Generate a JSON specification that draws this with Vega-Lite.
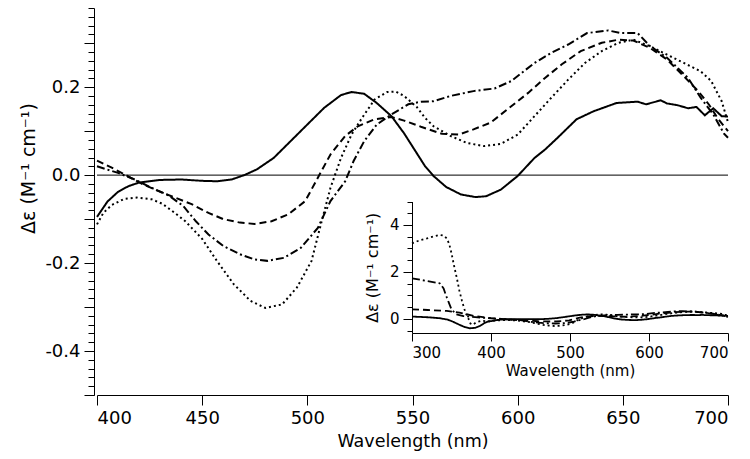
{
  "$schema": "https://vega.github.io/schema/vega-lite/v6.json",
  "width": 631,
  "height": 387,
  "autosize": "none",
  "padding": {"left": 97, "top": 8, "right": 22, "bottom": 64},
  "background": "white",
  "config": {
    "view": {"stroke": null},
    "axis": {
      "grid": false,
      "domainColor": "black",
      "tickColor": "black",
      "labelColor": "black",
      "titleColor": "black",
      "labelFont": "DejaVu Sans",
      "titleFont": "DejaVu Sans",
      "titleFontWeight": "normal",
      "domainWidth": 1,
      "tickWidth": 1
    }
  },
  "datasets": {
    "cd": [
      {"s": "a", "wl": 300, "de": 0.10}, {"s": "a", "wl": 320, "de": 0.07}, {"s": "a", "wl": 335, "de": 0.03}, {"s": "a", "wl": 345, "de": -0.03}, {"s": "a", "wl": 352, "de": -0.12}, {"s": "a", "wl": 360, "de": -0.25}, {"s": "a", "wl": 367, "de": -0.35}, {"s": "a", "wl": 373, "de": -0.40}, {"s": "a", "wl": 380, "de": -0.38}, {"s": "a", "wl": 386, "de": -0.30}, {"s": "a", "wl": 392, "de": -0.17}, {"s": "a", "wl": 397, "de": -0.10},
      {"s": "a", "wl": 400, "de": -0.095}, {"s": "a", "wl": 405, "de": -0.06}, {"s": "a", "wl": 410, "de": -0.038}, {"s": "a", "wl": 415, "de": -0.025}, {"s": "a", "wl": 420, "de": -0.017}, {"s": "a", "wl": 430, "de": -0.011}, {"s": "a", "wl": 440, "de": -0.010}, {"s": "a", "wl": 450, "de": -0.013}, {"s": "a", "wl": 457, "de": -0.014}, {"s": "a", "wl": 464, "de": -0.010}, {"s": "a", "wl": 470, "de": 0.0}, {"s": "a", "wl": 476, "de": 0.013}, {"s": "a", "wl": 484, "de": 0.039}, {"s": "a", "wl": 492, "de": 0.077}, {"s": "a", "wl": 500, "de": 0.115}, {"s": "a", "wl": 508, "de": 0.153}, {"s": "a", "wl": 516, "de": 0.182}, {"s": "a", "wl": 521, "de": 0.189}, {"s": "a", "wl": 527, "de": 0.185}, {"s": "a", "wl": 533, "de": 0.164}, {"s": "a", "wl": 540, "de": 0.134}, {"s": "a", "wl": 546, "de": 0.095}, {"s": "a", "wl": 552, "de": 0.05}, {"s": "a", "wl": 556, "de": 0.02}, {"s": "a", "wl": 560, "de": -0.002}, {"s": "a", "wl": 566, "de": -0.027}, {"s": "a", "wl": 573, "de": -0.044}, {"s": "a", "wl": 580, "de": -0.05}, {"s": "a", "wl": 585, "de": -0.048}, {"s": "a", "wl": 592, "de": -0.033}, {"s": "a", "wl": 600, "de": -0.002}, {"s": "a", "wl": 608, "de": 0.039}, {"s": "a", "wl": 613, "de": 0.058}, {"s": "a", "wl": 619, "de": 0.085}, {"s": "a", "wl": 628, "de": 0.127}, {"s": "a", "wl": 636, "de": 0.145}, {"s": "a", "wl": 647, "de": 0.164}, {"s": "a", "wl": 657, "de": 0.167}, {"s": "a", "wl": 661, "de": 0.161}, {"s": "a", "wl": 668, "de": 0.17}, {"s": "a", "wl": 671, "de": 0.163}, {"s": "a", "wl": 676, "de": 0.159}, {"s": "a", "wl": 681, "de": 0.152}, {"s": "a", "wl": 685, "de": 0.155}, {"s": "a", "wl": 689, "de": 0.136}, {"s": "a", "wl": 693, "de": 0.152}, {"s": "a", "wl": 697, "de": 0.134}, {"s": "a", "wl": 700, "de": 0.133},

      {"s": "b", "wl": 300, "de": 0.41}, {"s": "b", "wl": 320, "de": 0.38}, {"s": "b", "wl": 344, "de": 0.34}, {"s": "b", "wl": 360, "de": 0.27}, {"s": "b", "wl": 378, "de": 0.13}, {"s": "b", "wl": 390, "de": 0.08},
      {"s": "b", "wl": 400, "de": 0.033}, {"s": "b", "wl": 407, "de": 0.017}, {"s": "b", "wl": 413, "de": 0.002}, {"s": "b", "wl": 421, "de": -0.019}, {"s": "b", "wl": 429, "de": -0.036}, {"s": "b", "wl": 437, "de": -0.051}, {"s": "b", "wl": 445, "de": -0.066}, {"s": "b", "wl": 453, "de": -0.086}, {"s": "b", "wl": 460, "de": -0.1}, {"s": "b", "wl": 468, "de": -0.108}, {"s": "b", "wl": 475, "de": -0.111}, {"s": "b", "wl": 483, "de": -0.105}, {"s": "b", "wl": 491, "de": -0.089}, {"s": "b", "wl": 499, "de": -0.059}, {"s": "b", "wl": 505, "de": -0.006}, {"s": "b", "wl": 511, "de": 0.047}, {"s": "b", "wl": 518, "de": 0.089}, {"s": "b", "wl": 524, "de": 0.111}, {"s": "b", "wl": 532, "de": 0.127}, {"s": "b", "wl": 540, "de": 0.132}, {"s": "b", "wl": 546, "de": 0.124}, {"s": "b", "wl": 554, "de": 0.11}, {"s": "b", "wl": 564, "de": 0.094}, {"s": "b", "wl": 572, "de": 0.092}, {"s": "b", "wl": 579, "de": 0.104}, {"s": "b", "wl": 587, "de": 0.119}, {"s": "b", "wl": 595, "de": 0.149}, {"s": "b", "wl": 605, "de": 0.187}, {"s": "b", "wl": 613, "de": 0.221}, {"s": "b", "wl": 621, "de": 0.252}, {"s": "b", "wl": 630, "de": 0.282}, {"s": "b", "wl": 640, "de": 0.301}, {"s": "b", "wl": 648, "de": 0.308}, {"s": "b", "wl": 655, "de": 0.306}, {"s": "b", "wl": 663, "de": 0.289}, {"s": "b", "wl": 671, "de": 0.263}, {"s": "b", "wl": 679, "de": 0.225}, {"s": "b", "wl": 686, "de": 0.19}, {"s": "b", "wl": 691, "de": 0.16}, {"s": "b", "wl": 695, "de": 0.13}, {"s": "b", "wl": 700, "de": 0.1},

      {"s": "c", "wl": 300, "de": 1.73}, {"s": "c", "wl": 318, "de": 1.62}, {"s": "c", "wl": 335, "de": 1.52}, {"s": "c", "wl": 340, "de": 1.3}, {"s": "c", "wl": 343, "de": 1.0}, {"s": "c", "wl": 346, "de": 0.75}, {"s": "c", "wl": 350, "de": 0.4}, {"s": "c", "wl": 356, "de": 0.2}, {"s": "c", "wl": 365, "de": 0.12}, {"s": "c", "wl": 380, "de": 0.08}, {"s": "c", "wl": 392, "de": 0.04},
      {"s": "c", "wl": 400, "de": 0.02}, {"s": "c", "wl": 410, "de": 0.005}, {"s": "c", "wl": 418, "de": -0.01}, {"s": "c", "wl": 426, "de": -0.029}, {"s": "c", "wl": 434, "de": -0.046}, {"s": "c", "wl": 441, "de": -0.07}, {"s": "c", "wl": 447, "de": -0.105}, {"s": "c", "wl": 453, "de": -0.135}, {"s": "c", "wl": 460, "de": -0.161}, {"s": "c", "wl": 468, "de": -0.18}, {"s": "c", "wl": 475, "de": -0.192}, {"s": "c", "wl": 481, "de": -0.195}, {"s": "c", "wl": 489, "de": -0.188}, {"s": "c", "wl": 497, "de": -0.165}, {"s": "c", "wl": 505, "de": -0.12}, {"s": "c", "wl": 511, "de": -0.059}, {"s": "c", "wl": 518, "de": -0.014}, {"s": "c", "wl": 522, "de": 0.032}, {"s": "c", "wl": 527, "de": 0.077}, {"s": "c", "wl": 533, "de": 0.115}, {"s": "c", "wl": 540, "de": 0.138}, {"s": "c", "wl": 548, "de": 0.161}, {"s": "c", "wl": 554, "de": 0.167}, {"s": "c", "wl": 560, "de": 0.168}, {"s": "c", "wl": 568, "de": 0.18}, {"s": "c", "wl": 579, "de": 0.191}, {"s": "c", "wl": 589, "de": 0.197}, {"s": "c", "wl": 597, "de": 0.214}, {"s": "c", "wl": 608, "de": 0.255}, {"s": "c", "wl": 616, "de": 0.278}, {"s": "c", "wl": 624, "de": 0.297}, {"s": "c", "wl": 633, "de": 0.323}, {"s": "c", "wl": 643, "de": 0.329}, {"s": "c", "wl": 649, "de": 0.323}, {"s": "c", "wl": 657, "de": 0.323}, {"s": "c", "wl": 663, "de": 0.293}, {"s": "c", "wl": 671, "de": 0.267}, {"s": "c", "wl": 681, "de": 0.221}, {"s": "c", "wl": 687, "de": 0.176}, {"s": "c", "wl": 693, "de": 0.138}, {"s": "c", "wl": 698, "de": 0.095}, {"s": "c", "wl": 700, "de": 0.085},

      {"s": "d", "wl": 300, "de": 3.22}, {"s": "d", "wl": 310, "de": 3.35}, {"s": "d", "wl": 319, "de": 3.43}, {"s": "d", "wl": 328, "de": 3.52}, {"s": "d", "wl": 335, "de": 3.58}, {"s": "d", "wl": 340, "de": 3.55}, {"s": "d", "wl": 344, "de": 3.43}, {"s": "d", "wl": 347, "de": 3.2}, {"s": "d", "wl": 350, "de": 2.8}, {"s": "d", "wl": 353, "de": 2.3}, {"s": "d", "wl": 357, "de": 1.7}, {"s": "d", "wl": 360, "de": 1.2}, {"s": "d", "wl": 363, "de": 0.8}, {"s": "d", "wl": 366, "de": 0.45}, {"s": "d", "wl": 368, "de": 0.24}, {"s": "d", "wl": 371, "de": 0.05}, {"s": "d", "wl": 374, "de": -0.2}, {"s": "d", "wl": 377, "de": -0.25}, {"s": "d", "wl": 381, "de": -0.15}, {"s": "d", "wl": 388, "de": -0.08}, {"s": "d", "wl": 395, "de": -0.1},
      {"s": "d", "wl": 400, "de": -0.112}, {"s": "d", "wl": 403, "de": -0.086}, {"s": "d", "wl": 407, "de": -0.068}, {"s": "d", "wl": 413, "de": -0.054}, {"s": "d", "wl": 419, "de": -0.051}, {"s": "d", "wl": 426, "de": -0.055}, {"s": "d", "wl": 431, "de": -0.065}, {"s": "d", "wl": 437, "de": -0.086}, {"s": "d", "wl": 442, "de": -0.105}, {"s": "d", "wl": 446, "de": -0.125}, {"s": "d", "wl": 450, "de": -0.145}, {"s": "d", "wl": 457, "de": -0.195}, {"s": "d", "wl": 465, "de": -0.248}, {"s": "d", "wl": 473, "de": -0.286}, {"s": "d", "wl": 480, "de": -0.302}, {"s": "d", "wl": 488, "de": -0.294}, {"s": "d", "wl": 495, "de": -0.256}, {"s": "d", "wl": 502, "de": -0.195}, {"s": "d", "wl": 506, "de": -0.12}, {"s": "d", "wl": 511, "de": -0.029}, {"s": "d", "wl": 516, "de": 0.039}, {"s": "d", "wl": 521, "de": 0.092}, {"s": "d", "wl": 526, "de": 0.13}, {"s": "d", "wl": 532, "de": 0.172}, {"s": "d", "wl": 538, "de": 0.189}, {"s": "d", "wl": 542, "de": 0.19}, {"s": "d", "wl": 546, "de": 0.18}, {"s": "d", "wl": 552, "de": 0.155}, {"s": "d", "wl": 556, "de": 0.13}, {"s": "d", "wl": 560, "de": 0.111}, {"s": "d", "wl": 568, "de": 0.089}, {"s": "d", "wl": 576, "de": 0.073}, {"s": "d", "wl": 584, "de": 0.066}, {"s": "d", "wl": 592, "de": 0.071}, {"s": "d", "wl": 600, "de": 0.092}, {"s": "d", "wl": 608, "de": 0.134}, {"s": "d", "wl": 616, "de": 0.176}, {"s": "d", "wl": 624, "de": 0.217}, {"s": "d", "wl": 632, "de": 0.255}, {"s": "d", "wl": 640, "de": 0.282}, {"s": "d", "wl": 648, "de": 0.301}, {"s": "d", "wl": 655, "de": 0.308}, {"s": "d", "wl": 663, "de": 0.293}, {"s": "d", "wl": 671, "de": 0.274}, {"s": "d", "wl": 679, "de": 0.255}, {"s": "d", "wl": 687, "de": 0.236}, {"s": "d", "wl": 692, "de": 0.214}, {"s": "d", "wl": 697, "de": 0.168}, {"s": "d", "wl": 700, "de": 0.12}
    ]
  },
  "layer": [
    {
      "data": {"values": [{"z": 0}]},
      "mark": {"type": "rule", "color": "black", "strokeWidth": 1},
      "encoding": {
        "y": {
          "field": "z", "type": "quantitative",
          "scale": {"domain": [-0.5, 0.38], "nice": false, "zero": false},
          "axis": {
            "orient": "left", "offset": 3, "title": null, "labels": false, "domain": false,
            "tickSize": 6,
            "values": [-0.5, -0.48, -0.46, -0.44, -0.42, -0.4, -0.38, -0.36, -0.34, -0.32, -0.3, -0.28, -0.26, -0.24, -0.22, -0.2, -0.18, -0.16, -0.14, -0.12, -0.1, -0.08, -0.06, -0.04, -0.02, 0, 0.02, 0.04, 0.06, 0.08, 0.1, 0.12, 0.14, 0.16, 0.18, 0.2, 0.22, 0.24, 0.26, 0.28, 0.3, 0.32, 0.34, 0.36, 0.38]
          }
        }
      }
    },
    {
      "data": {"name": "cd"},
      "transform": [{"filter": "datum.wl >= 400"}],
      "mark": {"type": "line", "color": "black", "strokeWidth": 2, "strokeCap": "butt"},
      "encoding": {
        "x": {
          "field": "wl", "type": "quantitative",
          "scale": {"domain": [400, 700], "nice": false, "zero": false},
          "axis": {
            "orient": "bottom", "values": [400, 450, 500, 550, 600, 650, 700], "format": "d",
            "tickSize": 10, "labelFontSize": 18, "labelPadding": 4,
            "title": "Wavelength (nm)", "titleFontSize": 17.5, "titlePadding": 5
          }
        },
        "y": {
          "field": "de", "type": "quantitative",
          "scale": {"domain": [-0.5, 0.38], "nice": false, "zero": false},
          "axis": {
            "orient": "left", "offset": 3,
            "values": [-0.5, -0.4, -0.3, -0.2, -0.1, 0, 0.1, 0.2, 0.3],
            "labelExpr": "abs(round(datum.value*10)) % 2 == 0 ? replace(format(datum.value, '.1f'), '\u2212', '-') : ''",
            "tickSize": 10, "labelFontSize": 18, "labelPadding": 4,
            "title": "Δε  (M⁻¹ cm⁻¹)", "titleFontSize": 19, "titlePadding": 6, "titleY": 160
          }
        },
        "strokeDash": {
          "field": "s", "type": "nominal",
          "scale": {"domain": ["a", "b", "c", "d"], "range": [[1, 0], [7, 4], [8, 3, 2, 3], [2, 3]]},
          "legend": null
        },
        "order": {"field": "wl", "type": "quantitative"}
      }
    },
    {
      "data": {"name": "cd"},
      "mark": {"type": "line", "color": "black", "strokeWidth": 1.8, "strokeCap": "butt"},
      "encoding": {
        "x": {
          "field": "wl", "type": "quantitative",
          "scale": {"domain": [300, 700], "nice": false, "zero": false, "range": [315, 631]},
          "axis": {
            "orient": "bottom", "offset": -62, "values": [300, 400, 500, 600, 700], "format": "d",
            "tickSize": 8, "labelFontSize": 15, "labelPadding": 4,
            "title": "Wavelength (nm)", "titleFontSize": 15, "titlePadding": 3
          }
        },
        "y": {
          "field": "de", "type": "quantitative",
          "scale": {"domain": [-0.6, 5], "nice": false, "zero": false, "range": [325, 193.5]},
          "axis": {
            "orient": "left", "offset": -315, "values": [0, 2, 4],
            "tickSize": 9, "labelFontSize": 15, "labelPadding": 4,
            "title": "Δε  (M⁻¹ cm⁻¹)", "titleFontSize": 16, "titlePadding": 9
          }
        },
        "strokeDash": {
          "field": "s", "type": "nominal",
          "scale": {"domain": ["a", "b", "c", "d"], "range": [[1, 0], [7, 4], [8, 3, 2, 3], [2, 3]]},
          "legend": null
        },
        "order": {"field": "wl", "type": "quantitative"}
      }
    },
    {
      "data": {"values": [{"z": 0}]},
      "mark": {"type": "rule", "strokeOpacity": 0},
      "encoding": {
        "y": {
          "field": "z", "type": "quantitative",
          "scale": {"domain": [-0.6, 5], "nice": false, "zero": false, "range": [325, 193.5]},
          "axis": {
            "orient": "left", "offset": -315, "title": null, "labels": false, "domain": false,
            "tickSize": 5,
            "values": [-0.5, 0, 0.5, 1, 1.5, 2, 2.5, 3, 3.5, 4, 4.5, 5]
          }
        }
      }
    }
  ],
  "resolve": {
    "scale": {"x": "independent", "y": "independent"},
    "axis": {"x": "independent", "y": "independent"}
  }
}
